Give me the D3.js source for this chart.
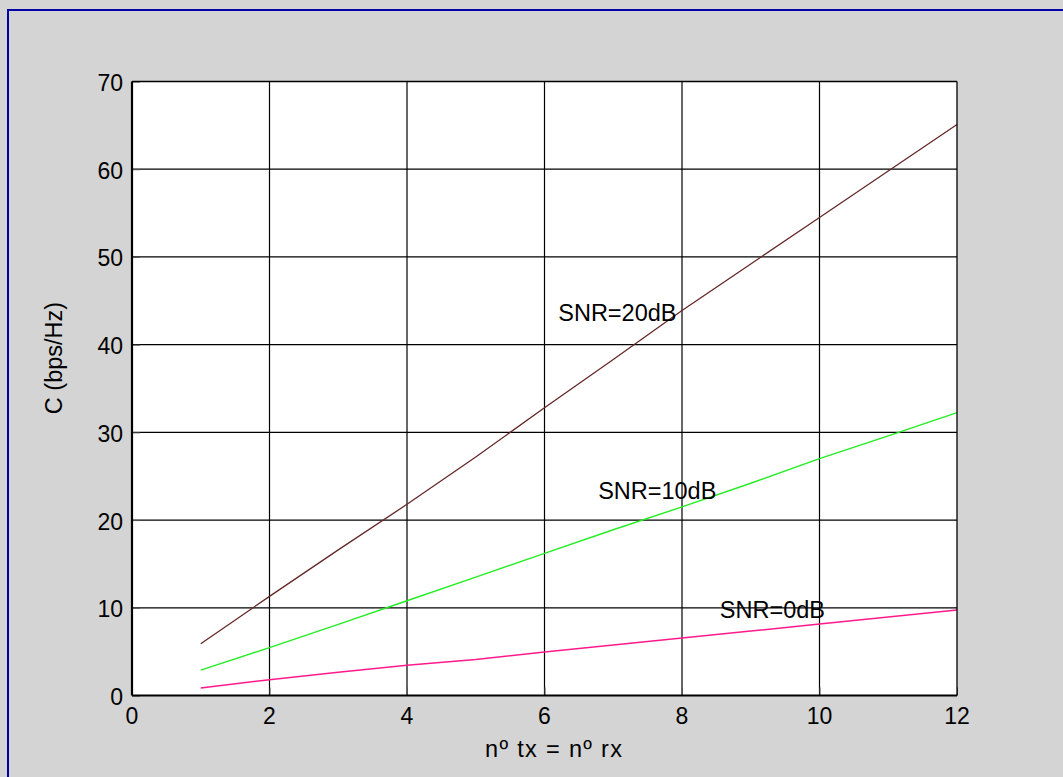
<!DOCTYPE html>
<html>
<head>
<meta charset="utf-8">
<script src="https://cdn.jsdelivr.net/npm/d3@7"></script>
<style>
  html, body { margin: 0; padding: 0; background: #d4d4d4; }
  svg { display: block; }
  text { font-family: Arial, "Liberation Sans", Helvetica, sans-serif; fill: #000; }
</style>
</head>
<body>
<script>
// Number of antennas (tx = rx)
const antennas = [1, 2, 3, 4, 5, 6, 7, 8, 9, 10, 11, 12];

// Capacity (bps/Hz) for each SNR
const cap20dB = [5.9, 11.3, 16.6, 21.8, 27.2, 32.8, 38.3, 43.9, 49.2, 54.5, 59.8, 65.1];
const cap10dB = [2.9, 5.45, 8.1, 10.8, 13.5, 16.2, 18.9, 21.5, 24.2, 27.0, 29.6, 32.25];
const cap0dB  = [0.85, 1.8, 2.65, 3.45, 4.1, 4.95, 5.75, 6.55, 7.35, 8.15, 8.95, 9.75];

// Axis ticks
const xTicks = [0, 2, 4, 6, 8, 10, 12];
const yTicks = [0, 10, 20, 30, 40, 50, 60, 70];

// Curve annotations (text, x, y in data units)
const labelText = ["SNR=20dB", "SNR=10dB", "SNR=0dB"];
const labelX = [6.2, 6.78, 8.55];
const labelY = [42.7, 22.35, 8.8];

const W = 1063, H = 777;
const pL = 132, pR = 957, pT = 81.5, pB = 695.5;

const svg = d3.select("body").append("svg")
  .attr("width", W).attr("height", H);

// figure background and frame
svg.append("rect").attr("x", 0).attr("y", 0).attr("width", W).attr("height", H)
  .attr("fill", "#d4d4d4");
svg.append("rect").attr("x", 8).attr("y", 10).attr("width", W + 20).attr("height", H + 20)
  .attr("fill", "none").attr("stroke", "#0000a8").attr("stroke-width", 2);

const x = d3.scaleLinear().domain([0, 12]).range([pL, pR]);
const y = d3.scaleLinear().domain([0, 70]).range([pB, pT]);

// plot area
svg.append("rect").attr("x", pL).attr("y", pT)
  .attr("width", pR - pL).attr("height", pB - pT)
  .attr("fill", "#fff");

// grid
const grid = svg.append("g");
grid.selectAll("line.gx").data(xTicks.slice(1, -1)).join("line")
  .attr("class", "gx")
  .attr("x1", d => x(d)).attr("x2", d => x(d))
  .attr("y1", pT).attr("y2", pB)
  .attr("stroke", "#000").attr("stroke-width", 1.2);
grid.selectAll("line.gy").data(yTicks.slice(1, -1)).join("line")
  .attr("class", "gy")
  .attr("x1", pL).attr("x2", pR)
  .attr("y1", d => y(d)).attr("y2", d => y(d))
  .attr("stroke", "#000").attr("stroke-width", 1.2);

// axes (inward ticks, labels drawn separately)
const xAxis = d3.axisBottom(x).tickValues(xTicks).tickSize(-8).tickFormat("");
const yAxis = d3.axisLeft(y).tickValues(yTicks).tickSize(-8).tickFormat("");
svg.append("g").attr("transform", `translate(0,${pB})`).call(xAxis)
  .call(g => g.selectAll(".tick line").attr("stroke", "#555"))
  .call(g => g.select(".domain").remove());
svg.append("g").attr("transform", `translate(${pL},0)`).call(yAxis)
  .call(g => g.selectAll(".tick line").attr("stroke", "#555"))
  .call(g => g.select(".domain").remove());

// series
const line = d3.line().x((d, i) => x(antennas[i])).y(d => y(d));
const series = [
  { v: cap20dB, c: "#642828", w: 1.3 },
  { v: cap10dB, c: "#22ee22", w: 1.4 },
  { v: cap0dB,  c: "#ff1a8c", w: 1.5 }
];
svg.append("g").selectAll("path").data(series).join("path")
  .attr("d", d => line(d.v))
  .attr("fill", "none")
  .attr("stroke", d => d.c)
  .attr("stroke-width", d => d.w);

// axes box
const box = svg.append("g").attr("stroke", "#000").attr("fill", "none");
box.append("line").attr("x1", pL).attr("x2", pR).attr("y1", pT).attr("y2", pT).attr("stroke-width", 1.3);
box.append("line").attr("x1", pR).attr("x2", pR).attr("y1", pT).attr("y2", pB).attr("stroke-width", 1.3);
box.append("line").attr("x1", pL).attr("x2", pR).attr("y1", pB).attr("y2", pB).attr("stroke-width", 2.2);
box.append("line").attr("x1", pL).attr("x2", pL).attr("y1", pT).attr("y2", pB).attr("stroke-width", 2.2);

// tick labels
svg.append("g").selectAll("text").data(xTicks).join("text")
  .attr("x", d => x(d)).attr("y", 723.5)
  .attr("text-anchor", "middle").attr("font-size", 23)
  .text(d => d);
svg.append("g").selectAll("text").data(yTicks).join("text")
  .attr("x", pL - 9).attr("y", d => y(d) + 9.5)
  .attr("text-anchor", "end").attr("font-size", 23)
  .text(d => d);

// axis titles
svg.append("text")
  .attr("x", (pL + pR) / 2 + 9).attr("y", 757)
  .attr("text-anchor", "middle").attr("font-size", 23.5)
  .attr("textLength", 137).attr("lengthAdjust", "spacing")
  .text("nº tx = nº rx");
svg.append("text")
  .attr("transform", "translate(62,358) rotate(-90)")
  .attr("text-anchor", "middle").attr("font-size", 23.5)
  .text("C (bps/Hz)");

// curve annotations
svg.append("g").selectAll("text").data(labelText).join("text")
  .attr("x", (d, i) => x(labelX[i]))
  .attr("y", (d, i) => y(labelY[i]))
  .attr("font-size", 23.5)
  .text(d => d);
</script>
</body>
</html>
